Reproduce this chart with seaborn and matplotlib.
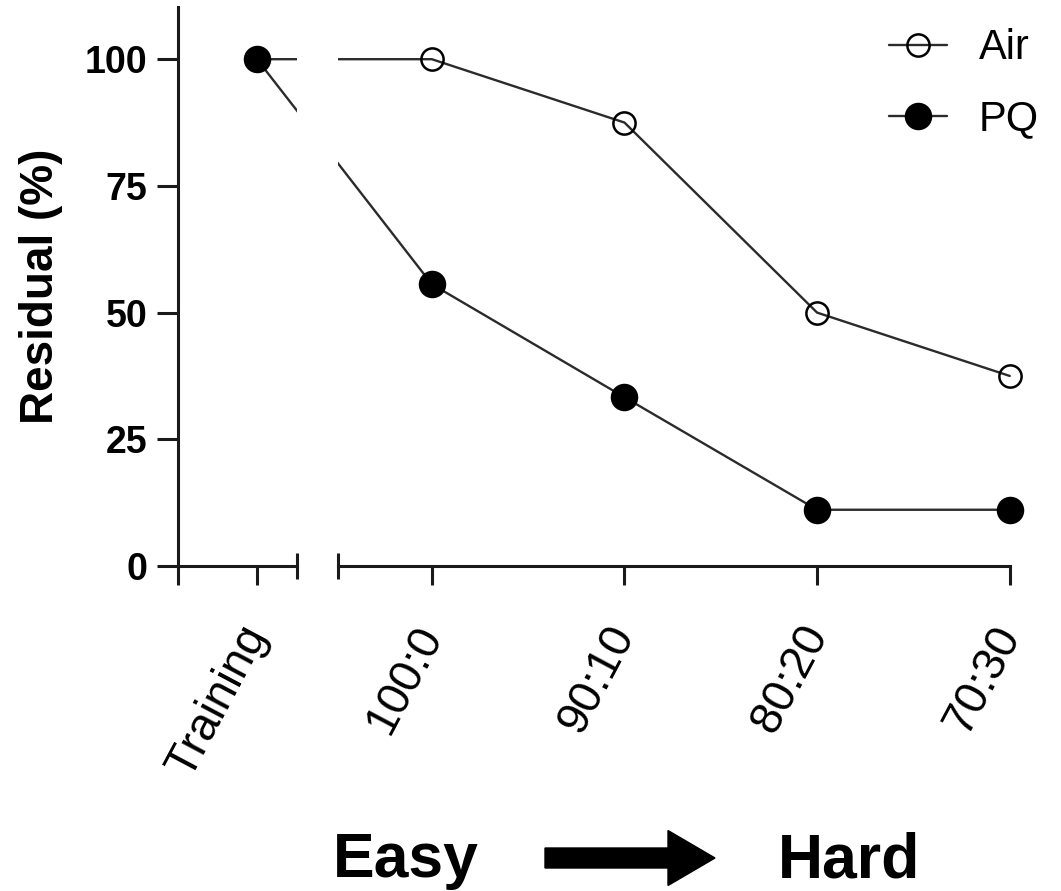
import numpy as np
import pandas as pd
import matplotlib.pyplot as plt
import seaborn as sns
from matplotlib.patches import FancyArrow

# data
conditions = ['Training', '100:0', '90:10', '80:20', '70:30']
air = [100, 100, 87.5, 50, 37.5]
pq = [100, 55.6, 33.3, 11.1, 11.1]
groups = ['Air', 'PQ']

# x layout (training sits a bit closer to the first test column)
x_pos = [0.093, 1, 2, 3, 4]

sns.set_style('ticks')
plt.rcParams['font.family'] = ['Liberation Sans', 'DejaVu Sans']
plt.rcParams['text.color'] = 'black'
plt.rcParams['axes.labelcolor'] = 'black'
plt.rcParams['xtick.color'] = 'black'
plt.rcParams['ytick.color'] = 'black'

df = pd.DataFrame({
    'cond': conditions * 2,
    'x': x_pos * 2,
    'value': air + pq,
    'group': ['Air'] * 5 + ['PQ'] * 5,
})

W, H = 1061, 891
fig = plt.figure(figsize=(W / 100, H / 100), dpi=100)
ax_l = fig.add_axes([178 / W, 1 - 566 / H, (297 - 178) / W, (566 - 7) / H])
ax_r = fig.add_axes([338 / W, 1 - 566 / H, (1029 - 338) / W, (566 - 7) / H])

line_c = '#2b2b2b'
axis_c = '#1a1a1a'
marker_kw = {
    'Air': dict(markersize=16, markerfacecolor='none'),
    'PQ': dict(markersize=18, markerfacecolor='black'),
}

for ax in (ax_l, ax_r):
    for g in groups:
        sub = df[df.group == g]
        sns.lineplot(data=sub, x='x', y='value', ax=ax, color=line_c, lw=1.7,
                     marker='o', markeredgecolor='black', markeredgewidth=1.8,
                     label=g, legend=False, **marker_kw[g])
    ax.set_xlabel('')
    ax.set_ylabel('')
    ax.set_ylim(0, 110.3)
    for s in ax.spines.values():
        s.set_linewidth(2.2)
        s.set_color(axis_c)
    ax.spines['top'].set_visible(False)
    ax.spines['right'].set_visible(False)
    ax.tick_params(which='both', width=2.2, color=axis_c)

# left piece: training
xl = (-0.316, 0.3005)
ax_l.set_xlim(*xl)
ax_l.set_xticks([xl[0], x_pos[0]], ['', conditions[0]], rotation=62, ha='right',
                va='center', rotation_mode='anchor', fontsize=33)
ax_l.set_xticks([xl[1]], minor=True)
ax_l.set_yticks([0, 25, 50, 75, 100], ['0', '25', '50', '75', '100'],
                fontsize=27, fontweight='bold')
ax_l.tick_params(axis='y', length=15, pad=7)
ax_l.tick_params(axis='x', which='major', length=14, pad=31)
ax_l.tick_params(axis='x', which='minor', direction='inout', length=19)
ax_l.set_ylabel('Residual (%)', fontsize=33, fontweight='bold', labelpad=16)

# right piece: test ratios
xr0 = 0.513
ax_r.set_xlim(xr0, 4.1)
ax_r.spines['bottom'].set_bounds(xr0, 4)
ax_r.spines['left'].set_visible(False)
ax_r.set_xticks(x_pos[1:], conditions[1:], rotation=62, ha='right',
                va='center', rotation_mode='anchor', fontsize=33)
ax_r.set_xticks([xr0], minor=True)
ax_r.tick_params(axis='x', which='major', length=14, pad=31)
ax_r.tick_params(axis='x', which='minor', direction='inout', length=19)
ax_r.tick_params(axis='y', left=False, labelleft=False)

handles = ax_r.get_lines()[:2]
fig.legend(handles, groups, loc='center left', bbox_to_anchor=(889 / W, 1 - 84 / H),
           frameon=False, fontsize=30, handlelength=1.4, handletextpad=0.75,
           labelspacing=0.75, borderpad=0, borderaxespad=0)

# difficulty annotation
fig.text(333 / W, 1 - 877 / H, 'Easy', fontsize=45, fontweight='bold',
         ha='left', va='baseline')
fig.text(778 / W, 1 - 877 / H, 'Hard', fontsize=45, fontweight='bold',
         ha='left', va='baseline')
arrow = FancyArrow(545 / W, 1 - 858 / H, (715 - 545) / W, 0, width=20 / H,
                   head_width=55 / H, head_length=47 / W,
                   length_includes_head=True, transform=fig.transFigure,
                   color='black')
fig.add_artist(arrow)

fig.savefig('out.png', dpi=100)
